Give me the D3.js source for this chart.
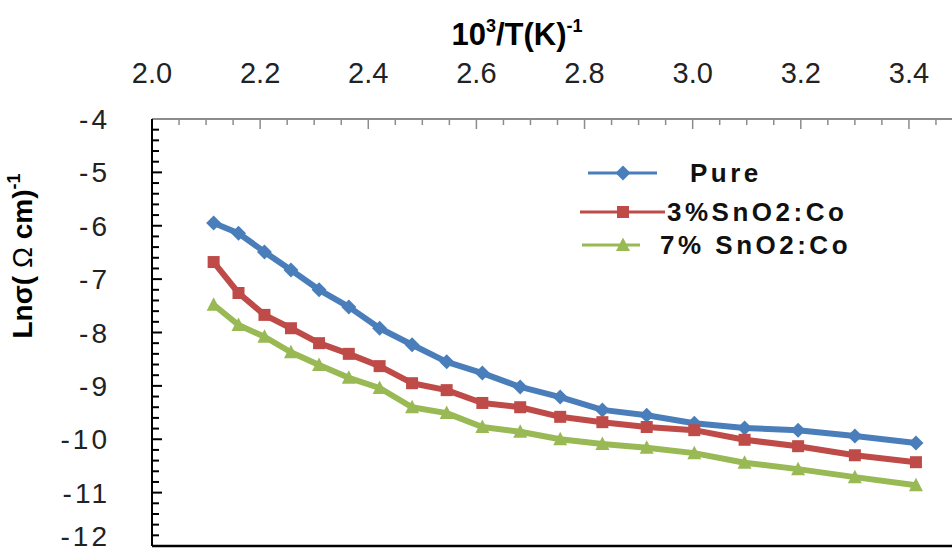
<!DOCTYPE html>
<html>
<head>
<meta charset="utf-8">
<script src="https://cdn.jsdelivr.net/npm/d3@7"></script>
<style>
  body { margin: 0; background: #fff; }
  text { font-family: "Liberation Sans", Arial, sans-serif; }
</style>
</head>
<body>
<svg id="chart" width="952" height="554"></svg>
<script>

// 10^3/T values, shared by the three samples
const invT = [2.114, 2.160, 2.208, 2.257, 2.309, 2.364, 2.421, 2.481, 2.545, 2.611,
              2.681, 2.755, 2.833, 2.915, 3.003, 3.096, 3.195, 3.300, 3.413]

const pure = [-5.95, -6.14, -6.49, -6.83, -7.20, -7.52, -7.92, -8.23, -8.55, -8.76,
              -9.02, -9.21, -9.45, -9.55, -9.70, -9.79, -9.83, -9.94, -10.07]

const sn3 = [-6.68, -7.26, -7.67, -7.92, -8.20, -8.40, -8.63, -8.95, -9.08, -9.32,
             -9.40, -9.58, -9.68, -9.77, -9.83, -10.01, -10.13, -10.30, -10.43]

const sn7 = [-7.48, -7.86, -8.08, -8.37, -8.61, -8.85, -9.04, -9.40, -9.51, -9.77,
             -9.86, -10.00, -10.09, -10.16, -10.26, -10.44, -10.56, -10.71, -10.86]

const seriesNames = ["Pure", "3%SnO2:Co", "7% SnO2:Co"]
const seriesColors = ["#4a7ebb", "#be4b48", "#98b954"]
const seriesShapes = ["diamond", "square", "triangle"]

const xTicks = [2.0, 2.2, 2.4, 2.6, 2.8, 3.0, 3.2, 3.4]
const yTicks = [-4, -5, -6, -7, -8, -9, -10, -11, -12]

const svg = d3.select("#chart")

const x = d3.scaleLinear()
            .domain([2.0, 3.5])
            .range([152, 963])

const y = d3.scaleLinear()
            .domain([-12, -4])
            .range([546, 119])

// top axis (gray, ticks hanging into the plot)
svg.append("line")
   .attr("x1", x(2.0)).attr("x2", 952)
   .attr("y1", y(-4)).attr("y2", y(-4))
   .attr("stroke", "#8c8c8c").attr("stroke-width", 2)

svg.selectAll(".xminor")
   .data(d3.range(41, 70).map(d => d / 20))
   .enter().append("line")
   .attr("x1", d => x(d)).attr("x2", d => x(d))
   .attr("y1", y(-4))
   .attr("y2", d => y(-4) + (Math.abs(d * 5 - Math.round(d * 5)) < 1e-6 ? 10 : 6))
   .attr("stroke", "#8c8c8c").attr("stroke-width", 1.5)

svg.selectAll(".xlab")
   .data(xTicks)
   .enter().append("text")
   .attr("x", d => x(d))
   .attr("y", 83)
   .attr("text-anchor", "middle")
   .attr("font-size", 29)
   .attr("fill", "#222")
   .text(d => d.toFixed(1))

// left axis
svg.append("line")
   .attr("x1", x(2.0)).attr("x2", x(2.0))
   .attr("y1", y(-4)).attr("y2", y(-12))
   .attr("stroke", "#000").attr("stroke-width", 2)

svg.selectAll(".yminor")
   .data(d3.range(-59, -20).map(d => d / 5))
   .enter().append("line")
   .attr("x1", x(2.0))
   .attr("x2", d => x(2.0) + (Math.abs(d - Math.round(d)) < 1e-6 ? 10 : 7))
   .attr("y1", d => y(d)).attr("y2", d => y(d))
   .attr("stroke", "#000").attr("stroke-width", 2)

svg.selectAll(".ylab")
   .data(yTicks)
   .enter().append("text")
   .attr("x", 110)
   .attr("y", d => Math.min(y(d) + 10, 546))
   .attr("text-anchor", "end")
   .attr("font-size", 28)
   .attr("letter-spacing", 3)
   .attr("fill", "#222")
   .text(d => d)

// bottom frame
svg.append("line")
   .attr("x1", x(2.0)).attr("x2", 952)
   .attr("y1", y(-12)).attr("y2", y(-12))
   .attr("stroke", "#000").attr("stroke-width", 2.5)

// titles
const xTitle = svg.append("text")
                  .attr("x", 517)
                  .attr("y", 45)
                  .attr("text-anchor", "middle")
                  .attr("font-size", 31)
                  .attr("font-weight", "bold")
xTitle.append("tspan").text("10")
xTitle.append("tspan").attr("font-size", 18).attr("dy", -13).text("3")
xTitle.append("tspan").attr("dy", 13).text("/T(K)")
xTitle.append("tspan").attr("font-size", 18).attr("dy", -13).text("-1")

const yTitle = svg.append("text")
                  .attr("transform", "translate(32,256) rotate(-90)")
                  .attr("text-anchor", "middle")
                  .attr("font-size", 28)
                  .attr("font-weight", "bold")
yTitle.append("tspan").text("Lnσ( ")
yTitle.append("tspan").attr("font-weight", "normal").text("Ω")
yTitle.append("tspan").text(" cm)")
yTitle.append("tspan").attr("font-size", 18).attr("dy", -12).text("-1")

// series
const allSeries = [pure, sn3, sn7]

function markerPath( shape )
{
  if ( shape == "diamond" ) return "M0,-7.5L7.5,0L0,7.5L-7.5,0Z"
  if ( shape == "square" ) return "M-6,-6H6V6H-6Z"
  return "M0,-7.5L7,6H-7Z"
}

const line = d3.line()
               .x(d => x(d[0]))
               .y(d => y(d[1]))

allSeries.forEach(function( vals, i )
{
  let pts = invT.map((t, k) => [t, vals[k]])

  svg.append("path")
     .attr("d", line(pts))
     .attr("fill", "none")
     .attr("stroke", seriesColors[i])
     .attr("stroke-width", 6)
     .attr("stroke-linejoin", "round")

  svg.selectAll(".m" + i)
     .data(pts)
     .enter().append("path")
     .attr("transform", d => "translate(" + x(d[0]) + "," + y(d[1]) + ")")
     .attr("d", markerPath(seriesShapes[i]))
     .attr("fill", seriesColors[i])
})

// legend
const legendY = [173, 212, 245]
const legendTextX = [690, 667, 660]
const legendLineX = [[588, 657], [580, 665], [582, 640]]

seriesNames.forEach(function( name, i )
{
  svg.append("line")
     .attr("x1", legendLineX[i][0]).attr("x2", legendLineX[i][1])
     .attr("y1", legendY[i]).attr("y2", legendY[i])
     .attr("stroke", seriesColors[i]).attr("stroke-width", 3)

  svg.append("path")
     .attr("transform", "translate(623," + legendY[i] + ")")
     .attr("d", markerPath(seriesShapes[i]))
     .attr("fill", seriesColors[i])

  svg.append("text")
     .attr("x", legendTextX[i])
     .attr("y", legendY[i] + 9)
     .attr("font-size", 26)
     .attr("font-weight", "bold")
     .attr("letter-spacing", 3.5)
     .attr("fill", "#111")
     .text(name)
})

</script>
</body>
</html>
